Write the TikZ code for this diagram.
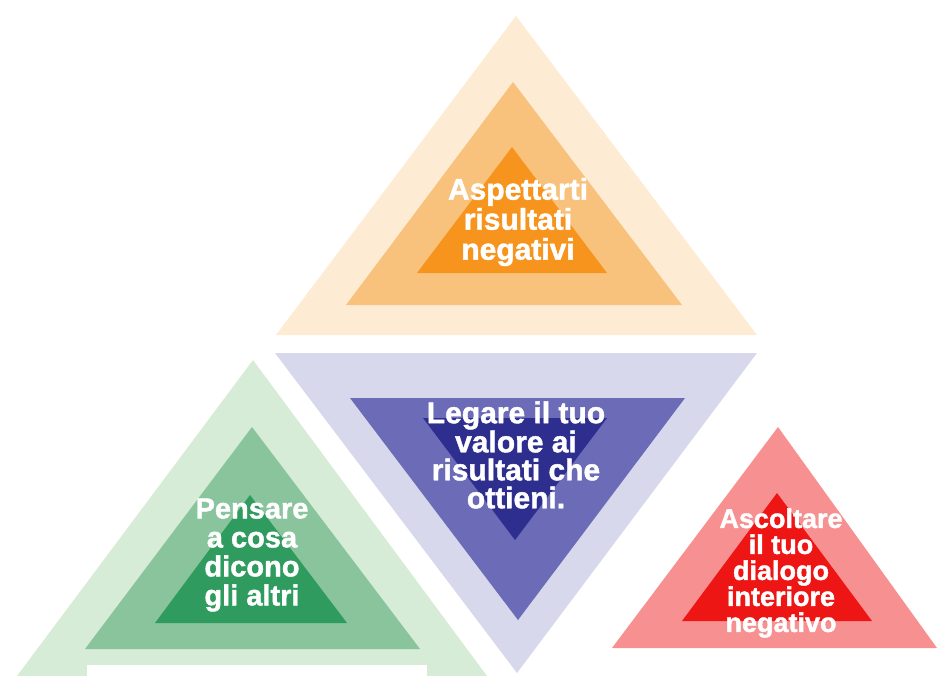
\documentclass[tikz,border=0pt]{standalone}
\usepackage{fontspec}
\newfontfamily\impactish{Liberation Sans}[UprightFont={* Bold}, FakeBold=1.4]
\definecolor{orOut}{HTML}{FDEBD3}
\definecolor{orMid}{HTML}{F8C27C}
\definecolor{orIn}{HTML}{F7941E}
\definecolor{blOut}{HTML}{D8D8EC}
\definecolor{blMid}{HTML}{6B6BB8}
\definecolor{blIn}{HTML}{2E2E8F}
\definecolor{grOut}{HTML}{D6ECD6}
\definecolor{grMid}{HTML}{89C49D}
\definecolor{grIn}{HTML}{2F9B5E}
\definecolor{rdOut}{HTML}{F79191}
\definecolor{rdIn}{HTML}{EE1515}
\tikzset{
  lbl/.style={text=white, align=center, inner sep=0pt},
}
\begin{document}
\begin{tikzpicture}[x=1pt,y=-1pt]
\useasboundingbox (0,0) rectangle (939,675);
% orange (top)
\fill[orOut] (516,16) -- (757,335) -- (276,335) -- cycle;
\fill[orMid] (513,82) -- (682,305) -- (346,305) -- cycle;
\fill[orIn] (512,147) -- (607,273) -- (417,273) -- cycle;
% blue (inverted, centre)
\fill[blOut] (275,353) -- (757,353) -- (517,673) -- cycle;
\fill[blMid] (350,398) -- (685,398) -- (518,620) -- cycle;
\fill[blIn] (423,418) -- (607,418) -- (515,540) -- cycle;
% green (bottom left)
\fill[grOut] (253,360) -- (490,680) -- (14,680) -- cycle;
\fill[grMid] (252,427) -- (420,649) -- (85,649) -- cycle;
\fill[grIn] (250,495) -- (347,623) -- (155,623) -- cycle;
\fill[white] (87,665) rectangle (427,680);
% red (bottom right)
\fill[rdOut] (778,427) -- (937,648) -- (612,648) -- cycle;
\fill[rdIn] (777,493) -- (872,621) -- (682,621) -- cycle;
% labels
\node[lbl, font={\impactish\fontsize{30}{30}\selectfont}] (tA) at (518,222)
  {Aspettarti\\risultati\\negativi};
\node[lbl, font={\impactish\fontsize{30}{28}\selectfont}] (tB) at (516,455)
  {Legare il tuo\\valore ai\\risultati che\\ottieni.};
\node[lbl, font={\impactish\fontsize{29}{29}\selectfont}] (tC) at (252,555)
  {Pensare\\a cosa\\dicono\\gli altri};
\node[lbl, font={\impactish\fontsize{27}{26}\selectfont}] (tD) at (781,573)
  {Ascoltare\\il tuo\\dialogo\\interiore\\negativo};
\end{tikzpicture}
\end{document}
